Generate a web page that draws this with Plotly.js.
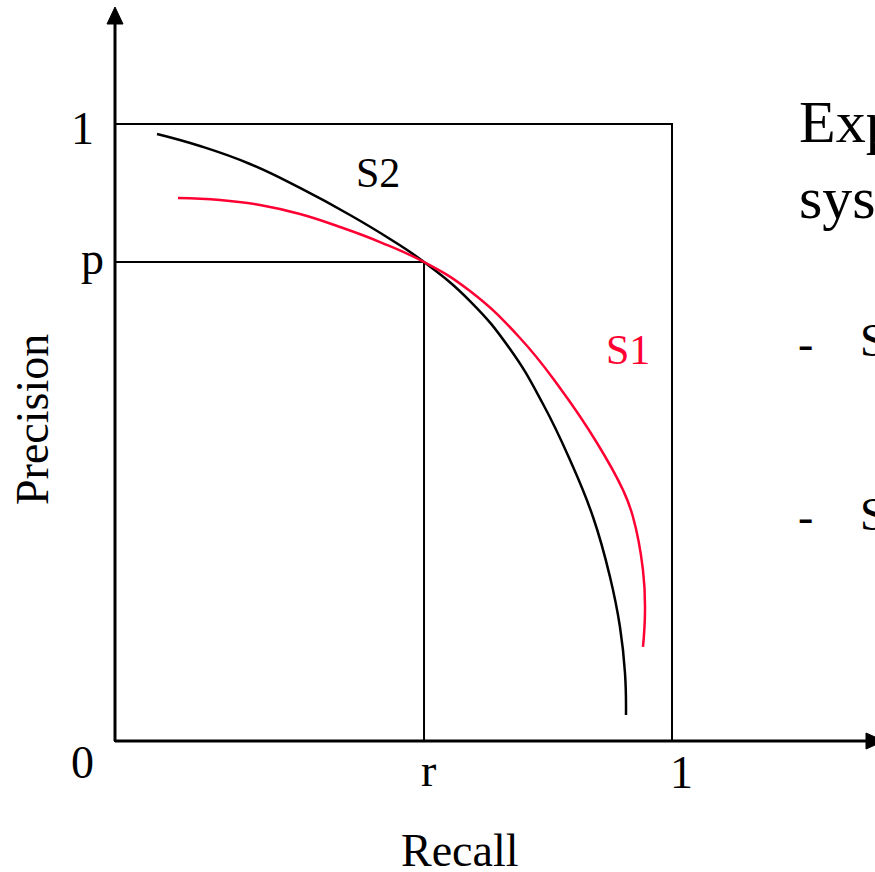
<!DOCTYPE html>
<html>
<head>
<meta charset="utf-8">
<script src="https://cdn.plot.ly/plotly-3.0.1.min.js"></script>
<style>
  html, body { margin: 0; padding: 0; background: #ffffff; }
  #chart { width: 875px; height: 872px; }
</style>
</head>
<body>
<div id="chart"></div>
<script>
// Precision / recall curves of two retrieval systems, S1 and S2,
// crossing at the operating point (r, p).

const s2Recall    = [0.0754, 0.1526, 0.2424, 0.3321, 0.4219, 0.4937, 0.5548, 0.6373, 0.7092, 0.7684, 0.8169, 0.8582, 0.8887, 0.9066, 0.9156, 0.9174];
const s2Precision = [0.9838, 0.9643, 0.9352, 0.8963, 0.8525, 0.8136, 0.7763, 0.7131, 0.6353, 0.5462, 0.4554, 0.3630, 0.2658, 0.1848, 0.1102, 0.0421];

const s1Recall    = [0.1131, 0.1885, 0.2603, 0.3321, 0.4039, 0.4758, 0.5548, 0.6373, 0.7271, 0.7989, 0.8654, 0.9120, 0.9300, 0.9479, 0.9515, 0.9479];
const s1Precision = [0.8801, 0.8768, 0.8687, 0.8541, 0.8331, 0.8087, 0.7763, 0.7293, 0.6532, 0.5721, 0.4830, 0.4068, 0.3630, 0.2771, 0.2123, 0.1524];

const operatingRecall = 0.5548;     // r
const operatingPrecision = 0.7763;  // p

const seriesNames = ['S1', 'S2'];
const axisNames = ['Recall', 'Precision'];
const cornerLabels = ['0', '1', '1', 'r', 'p'];
const sideText = ['Exp', 'sys', '-', 'S', '-', 'S'];

// ---- page geometry (pixels) ----
const W = 875, H = 872;
const ORIGIN_X = 115, ORIGIN_Y = 741;   // where (0,0) sits
const UNIT_X = 557, UNIT_Y = 617;       // pixels per unit of recall / precision

const xRange = [-ORIGIN_X / UNIT_X, (W - ORIGIN_X) / UNIT_X];
const yRange = [-(H - ORIGIN_Y) / UNIT_Y, ORIGIN_Y / UNIT_Y];

// helpers to place decorations by pixel position
const px = v => (v - ORIGIN_X) / UNIT_X;
const py = v => (ORIGIN_Y - v) / UNIT_Y;

const FONT = 'Liberation Serif, Times New Roman, serif';
const RED = '#ff0033';

const traces = [
  {
    x: s2Recall, y: s2Precision, name: seriesNames[1],
    type: 'scatter', mode: 'lines',
    line: { color: '#000000', width: 2.5, shape: 'spline', smoothing: 1.3 },
    hoverinfo: 'skip'
  },
  {
    x: s1Recall, y: s1Precision, name: seriesNames[0],
    type: 'scatter', mode: 'lines',
    line: { color: RED, width: 2.5, shape: 'spline', smoothing: 1.3 },
    hoverinfo: 'skip'
  }
];

const black = { color: '#000000', width: 2 };
const shapes = [
  // unit box
  { type: 'rect', xref: 'x', yref: 'y', x0: 0, y0: 0, x1: 1, y1: 1, line: black, layer: 'below' },
  // operating point guides
  { type: 'line', xref: 'x', yref: 'y', x0: 0, y0: operatingPrecision, x1: operatingRecall, y1: operatingPrecision, line: black, layer: 'below' },
  { type: 'line', xref: 'x', yref: 'y', x0: operatingRecall, y0: 0, x1: operatingRecall, y1: operatingPrecision, line: black, layer: 'below' },
  // axes
  { type: 'line', xref: 'x', yref: 'y', x0: 0, y0: 0, x1: 0, y1: py(22), line: { color: '#000', width: 3 } },
  { type: 'line', xref: 'x', yref: 'y', x0: 0, y0: 0, x1: px(868), y1: 0, line: { color: '#000', width: 3 } },
  // arrow heads
  { type: 'path', xref: 'x', yref: 'y',
    path: `M ${px(107)} ${py(24)} L ${px(123)} ${py(24)} L ${px(115)} ${py(7)} Z`,
    fillcolor: '#000', line: { color: '#000', width: 1 } },
  { type: 'path', xref: 'x', yref: 'y',
    path: `M ${px(866)} ${py(733)} L ${px(866)} ${py(749)} L ${px(884)} ${py(741)} Z`,
    fillcolor: '#000', line: { color: '#000', width: 1 } }
];

function label(text, x, y, size, opts) {
  return Object.assign({
    text: text, xref: 'x', yref: 'y', x: px(x), y: py(y),
    showarrow: false, xanchor: 'center', yanchor: 'middle',
    font: { family: FONT, size: size, color: '#000000' }
  }, opts || {});
}

const annotations = [
  label(cornerLabels[1], 82, 128, 46),
  label(cornerLabels[4], 92, 258, 46),
  label(cornerLabels[0], 82, 762, 46),
  label(cornerLabels[3], 428, 770, 46),
  label(cornerLabels[2], 681, 772, 46),
  label(axisNames[0], 460, 850, 46),
  label(axisNames[1], 32, 420, 46, { textangle: -90 }),
  label(seriesNames[1], 378, 173, 42),
  label(seriesNames[0], 628, 350, 42, { font: { family: FONT, size: 42, color: RED } }),
  label(sideText[0], 797, 122, 60, { xanchor: 'left' }),
  label(sideText[1], 797, 198, 60, { xanchor: 'left' }),
  label(sideText[2], 805, 343, 46),
  label(sideText[3], 858, 340, 46, { xanchor: 'left' }),
  label(sideText[4], 805, 516, 46),
  label(sideText[5], 858, 514, 46, { xanchor: 'left' })
];

const layout = {
  width: W, height: H,
  margin: { l: 0, r: 0, t: 0, b: 0, pad: 0 },
  paper_bgcolor: '#ffffff', plot_bgcolor: '#ffffff',
  showlegend: false,
  xaxis: { range: xRange, visible: false, fixedrange: true },
  yaxis: { range: yRange, visible: false, fixedrange: true },
  shapes: shapes,
  annotations: annotations
};

Plotly.newPlot('chart', traces, layout, { staticPlot: true, displayModeBar: false });
</script>
</body>
</html>
